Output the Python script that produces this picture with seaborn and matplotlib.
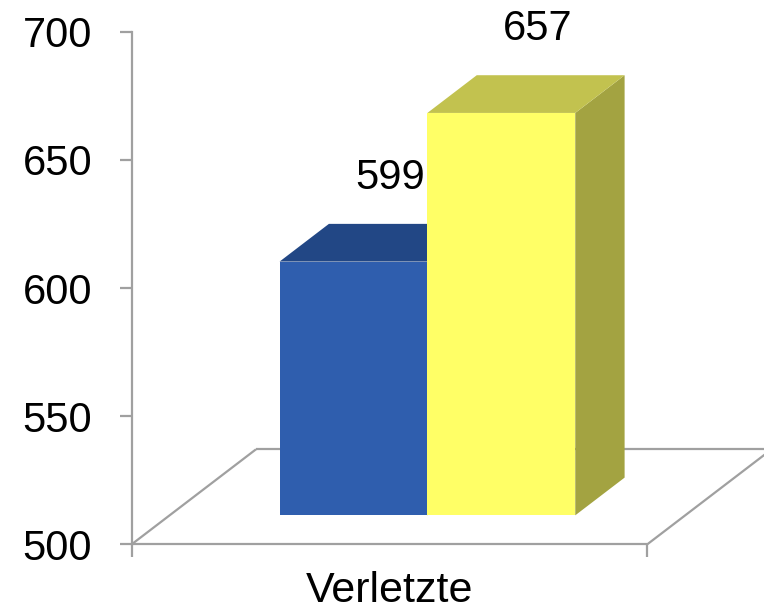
import matplotlib
matplotlib.use("Agg")
import matplotlib.pyplot as plt
from matplotlib.patches import Polygon
import seaborn as sns
import pandas as pd

# ---- data ----
categories = ["Verletzte", "Verletzte"]
series = ["Serie 1", "Serie 2"]
values = [599, 657]
y_ticks = [500, 550, 600, 650, 700]
labels = ["599", "657"]

front_colors = ["#2F5EAE", "#FFFF66"]
top_colors = ["#224785", "#C2C24F"]
side_colors = ["#1B3A6E", "#A3A341"]
GRAY = "#A0A0A0"

sns.set_theme(style="white")
plt.rcParams["font.family"] = ["Liberation Sans", "DejaVu Sans"]

W, H, DPI = 764, 613, 100
fig = plt.figure(figsize=(W / DPI, H / DPI), dpi=DPI)

# axes geometry (pixels)
ax_l, ax_r, ax_t, ax_b = 131.7, 764.0, 31.7, 544.3
ax = fig.add_axes([ax_l / W, (H - ax_b) / H, (ax_r - ax_l) / W, (ax_b - ax_t) / H])

df = pd.DataFrame({"cat": categories, "series": series, "value": values})
sns.barplot(data=df, x="cat", y="value", hue="series", palette=front_colors,
            width=0.5735, dodge=True, legend=False, linewidth=0, ax=ax,
            saturation=1)

BASE = y_ticks[0]
ax.set_ylim(y_ticks[0], y_ticks[-1])
px_per_x = 515.6  # pixels per category unit
ax.set_xlim(-0.5, -0.5 + (ax_r - ax_l) / px_per_x)
px_per_y = (ax_b - ax_t) / (y_ticks[-1] - y_ticks[0])

# oblique depth vector (full floor depth) in data units
DX = 124.3 / px_per_x
DY = 95.0 / px_per_y
D_F, D_B = 0.305, 0.702

patches = list(ax.patches)
for i, p in enumerate(patches):
    x0 = p.get_x()
    w = p.get_width()
    v = p.get_height()
    fx, fy = D_F * DX, D_F * DY
    bx, by = D_B * DX, D_B * DY
    z = 2 + i
    side = Polygon([(x0 + w + fx, BASE + fy), (x0 + w + bx, BASE + by),
                    (x0 + w + bx, v + by), (x0 + w + fx, v + fy)],
                   closed=True, facecolor=side_colors[i], edgecolor="none",
                   zorder=z, clip_on=False)
    top = Polygon([(x0 + fx, v + fy), (x0 + w + fx, v + fy),
                   (x0 + w + bx, v + by), (x0 + bx, v + by)],
                  closed=True, facecolor=top_colors[i], edgecolor="none",
                  zorder=z, clip_on=False)
    ax.add_patch(side)
    ax.add_patch(top)
    p.set_x(x0 + fx)
    p.set_y(BASE + fy)
    p.set_height(v - BASE)
    p.set_zorder(z + 0.1)
    p.set_clip_on(False)
    ax.annotate(labels[i], xy=(x0 + fx + w / 2, v + fy), xytext=(36.5, 84),
                textcoords="offset pixels", ha="center", va="center",
                fontsize=30, color="black", zorder=10, annotation_clip=False)

# floor outline
lw = 1.6
fl = dict(color=GRAY, lw=lw, clip_on=False, zorder=1, solid_capstyle="butt")
ax.plot([-0.5, 0.5], [BASE, BASE], **fl)
ax.plot([-0.5, -0.5 + DX], [BASE, BASE + DY], **fl)
ax.plot([0.5, 0.5 + DX], [BASE, BASE + DY], **fl)
ax.plot([-0.5 + DX, 0.5 + DX], [BASE + DY, BASE + DY], **fl)

# spines
for s in ["top", "right", "bottom"]:
    ax.spines[s].set_visible(False)
ax.spines["left"].set_color(GRAY)
ax.spines["left"].set_linewidth(lw)

ax.set_yticks(y_ticks)
ax.set_yticklabels([str(t) for t in y_ticks])
ax.tick_params(axis="y", which="major", left=True, length=8.5, width=lw,
               color=GRAY, pad=20, labelsize=30, labelcolor="black")

ax.set_xticks([-0.5, 0.5], labels=["", ""])
ax.set_xticks([0], labels=[categories[0]], minor=True)
ax.tick_params(axis="x", which="major", bottom=True, length=9, width=lw,
               color=GRAY, direction="out")
ax.tick_params(axis="x", which="minor", bottom=True, length=0, pad=19,
               labelsize=31, labelcolor="black")
ax.set_xlabel("")
ax.set_ylabel("")
ax.grid(False)

fig.savefig("out.png", dpi=DPI)
